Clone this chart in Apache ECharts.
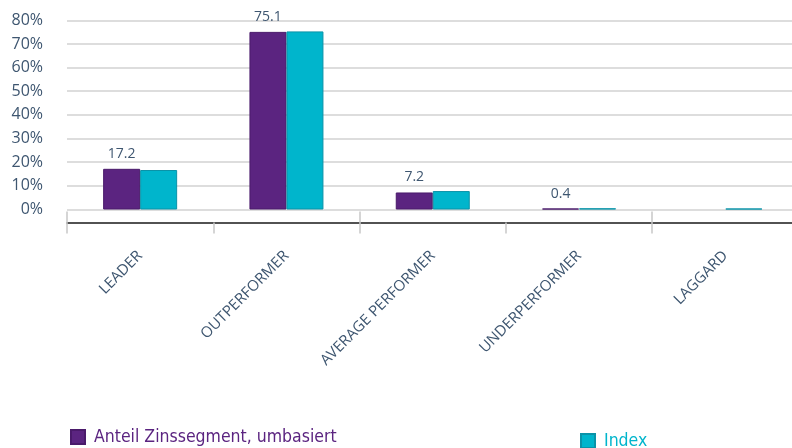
<!DOCTYPE html>
<html>
<head>
<meta charset="utf-8">
<script src="https://cdn.jsdelivr.net/npm/echarts@6/dist/echarts.min.js"></script>
<style>html,body{margin:0;padding:0;background:#fff}#c{width:792px;height:448px}</style>
</head>
<body>
<div id="c"></div>
<script>
var categories = ['LEADER', 'OUTPERFORMER', 'AVERAGE PERFORMER', 'UNDERPERFORMER', 'LAGGARD'];
var anteilValues = [17.2, 75.1, 7.2, 0.4, 0];
var indexValues = [16.7, 75.3, 7.8, 0.5, 0.4];
var yTicks = [0, 10, 20, 30, 40, 50, 60, 70, 80];
var seriesNames = ['Anteil Zinssegment, umbasiert', 'Index'];

var PURPLE = '#5b2480', TEAL = '#00b5cc', SLATE = '#3e5670';
var LEGEND_FONT = '"DejaVu Sans Condensed", "Liberation Sans Narrow", sans-serif';
var chart = echarts.init(document.getElementById('c'), null, {renderer: 'canvas'});
chart.setOption({
  animation: false,
  grid: {left: 67, width: 731.5, top: 20.3, bottom: 238.5, outerBoundsMode: 'none', containLabel: false},
  legend: [
    {data: [seriesNames[0]], left: 70, top: 428, padding: 0, itemWidth: 14, itemHeight: 14, icon: 'rect', selectedMode: false,
     textStyle: {color: PURPLE, fontFamily: LEGEND_FONT, fontSize: 17.5, padding: [0,0,0,4]}},
    {data: [seriesNames[1]], left: 580, top: 432, padding: 0, itemWidth: 14, itemHeight: 14, icon: 'rect', selectedMode: false,
     textStyle: {color: TEAL, fontFamily: LEGEND_FONT, fontSize: 17.5, padding: [0,0,0,4]}}
  ],
  xAxis: [
    {type: 'category', data: categories, position: 'bottom', offset: 13,
     axisLine: {show: true, onZero: false, lineStyle: {color: '#1a1a1a', width: 1.5}},
     axisTick: {show: true, length: 11, lineStyle: {color: '#c8c8c8', width: 1.5}},
     axisLabel: {rotate: 45, margin: 31, color: SLATE, fontFamily: 'Open Sans', fontSize: 15, interval: 0},
     splitLine: {show: false}},
    {type: 'category', data: categories, position: 'bottom', offset: 13,
     axisLine: {show: false, onZero: false},
     axisTick: {show: true, inside: true, length: 11, lineStyle: {color: '#c8c8c8', width: 1.5}},
     axisLabel: {show: false}, splitLine: {show: false}}
  ],
  yAxis: {type: 'value', min: yTicks[0], max: yTicks[yTicks.length-1], interval: 10,
    axisLine: {show: false}, axisTick: {show: false},
    axisLabel: {formatter: '{value}%', color: SLATE, fontFamily: 'Open Sans', fontSize: 16, margin: 24},
    splitLine: {lineStyle: {color: '#d2d2d2', width: 1.5}}},
  series: [
    {name: seriesNames[0], type: 'bar', xAxisIndex: 0, barWidth: 37, barGap: '0%',
     data: anteilValues.map(function(v){ return v === 0 ? null : v; }),
     itemStyle: {color: PURPLE, borderColor: '#4a1a6a', borderWidth: 1},
     label: {show: true, position: 'top', distance: 8, color: SLATE, fontFamily: 'Open Sans', fontSize: 14,
       formatter: function(p){ return p.value.toFixed(1); }}},
    {name: seriesNames[1], type: 'bar', xAxisIndex: 0, barWidth: 37, barGap: '0%',
     data: indexValues,
     itemStyle: {color: TEAL, borderColor: '#0a93a8', borderWidth: 1}}
  ]
});
</script>
</body>
</html>
